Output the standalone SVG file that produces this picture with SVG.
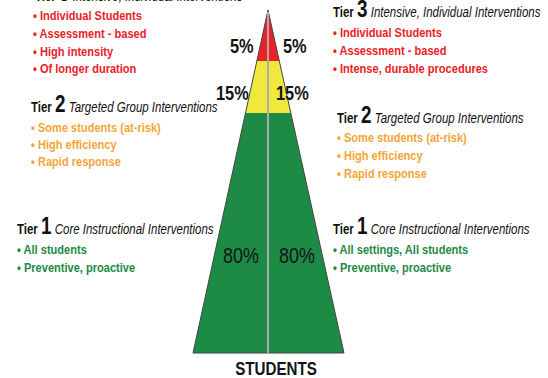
<svg xmlns="http://www.w3.org/2000/svg" width="548" height="378" viewBox="0 0 548 378">
<style>
text{font-family:"Liberation Sans",Arial,sans-serif;}
.b{font-weight:bold;font-size:13.5px;}
.red{fill:#ec2127;}
.org{fill:#f4a537;}
.grn{fill:#1d8a45;}
.tier{font-size:14px;fill:#111;}
.tw{font-weight:bold;}
.tn{font-size:23px;font-weight:bold;}
.ti{font-style:italic;}
.pct{font-size:20px;font-weight:bold;fill:#151515;}
.pct8{font-size:22px;fill:#151515;}
</style>
<rect width="548" height="378" fill="#fff"/>
<g id="pyramid">
<polygon points="268,10 256.8,61 279.3,61" fill="#ec2127"/>
<polygon points="256.8,61 279.3,61 290.8,113 245.5,113" fill="#eee93c"/>
<polygon points="245.5,113 290.8,113 344,353 193,353" fill="#1d8a45"/>
<polygon points="268,10 344,353 193,353" fill="none" stroke="#444" stroke-width="1"/>
<line x1="268" y1="12" x2="268" y2="353" stroke="#9a9a9a" stroke-width="2"/>
<line x1="268" y1="12" x2="268" y2="353" stroke="#e6e6e6" stroke-width="0.5"/>
<text class="pct" transform="translate(230,53) scale(0.82,1)">5%</text>
<text class="pct" transform="translate(283,53) scale(0.82,1)">5%</text>
<text class="pct" transform="translate(216,100) scale(0.82,1)">15%</text>
<text class="pct" transform="translate(276,100) scale(0.82,1)">15%</text>
<text class="pct8" transform="translate(223,263) scale(0.82,1)">80%</text>
<text class="pct8" transform="translate(279,263) scale(0.82,1)">80%</text>
<text transform="translate(276,375) scale(0.82,1)" text-anchor="middle" style="font-size:18.5px;font-weight:bold;fill:#151515">STUDENTS</text>
</g>
<g id="tier3-left">
<text class="tier" transform="translate(35,1) scale(0.82,1)"><tspan class="tw">Tier </tspan><tspan class="tn">3</tspan><tspan class="ti"> Intensive, Individual Interventions</tspan></text>
<text class="b red" transform="translate(33,20) scale(0.82,1)">• Individual Students</text>
<text class="b red" transform="translate(33,38) scale(0.82,1)">• Assessment - based</text>
<text class="b red" transform="translate(33,56) scale(0.82,1)">• High intensity</text>
<text class="b red" transform="translate(33,73) scale(0.82,1)">• Of longer duration</text>
</g>
<g id="tier3-right">
<text class="tier" transform="translate(333,17) scale(0.82,1)"><tspan class="tw">Tier </tspan><tspan class="tn">3</tspan><tspan class="ti"> Intensive, Individual Interventions</tspan></text>
<text class="b red" transform="translate(333,37) scale(0.82,1)">• Individual Students</text>
<text class="b red" transform="translate(333,55) scale(0.82,1)">• Assessment - based</text>
<text class="b red" transform="translate(333,73) scale(0.82,1)">• Intense, durable procedures</text>
</g>
<g id="tier2-left">
<text class="tier" transform="translate(31,112) scale(0.82,1)"><tspan class="tw">Tier </tspan><tspan class="tn">2</tspan><tspan class="ti"> Targeted Group Interventions</tspan></text>
<text class="b org" transform="translate(31,132) scale(0.82,1)">• Some students (at-risk)</text>
<text class="b org" transform="translate(31,149) scale(0.82,1)">• High efficiency</text>
<text class="b org" transform="translate(31,166) scale(0.82,1)">• Rapid response</text>
</g>
<g id="tier2-right">
<text class="tier" transform="translate(337,123) scale(0.82,1)"><tspan class="tw">Tier </tspan><tspan class="tn">2</tspan><tspan class="ti"> Targeted Group Interventions</tspan></text>
<text class="b org" transform="translate(337,142) scale(0.82,1)">• Some students (at-risk)</text>
<text class="b org" transform="translate(337,160) scale(0.82,1)">• High efficiency</text>
<text class="b org" transform="translate(337,178) scale(0.82,1)">• Rapid response</text>
</g>
<g id="tier1-left">
<text class="tier" transform="translate(17,234) scale(0.82,1)"><tspan class="tw">Tier </tspan><tspan class="tn">1</tspan><tspan class="ti"> Core Instructional Interventions</tspan></text>
<text class="b grn" transform="translate(17,254) scale(0.82,1)">• All students</text>
<text class="b grn" transform="translate(17,272) scale(0.82,1)">• Preventive,  proactive</text>
</g>
<g id="tier1-right">
<text class="tier" transform="translate(333,234) scale(0.82,1)"><tspan class="tw">Tier </tspan><tspan class="tn">1</tspan><tspan class="ti"> Core Instructional Interventions</tspan></text>
<text class="b grn" transform="translate(333,254) scale(0.82,1)">• All settings, All students</text>
<text class="b grn" transform="translate(333,272) scale(0.82,1)">• Preventive,  proactive</text>
</g>
<g id="connectors"></g>
</svg>
